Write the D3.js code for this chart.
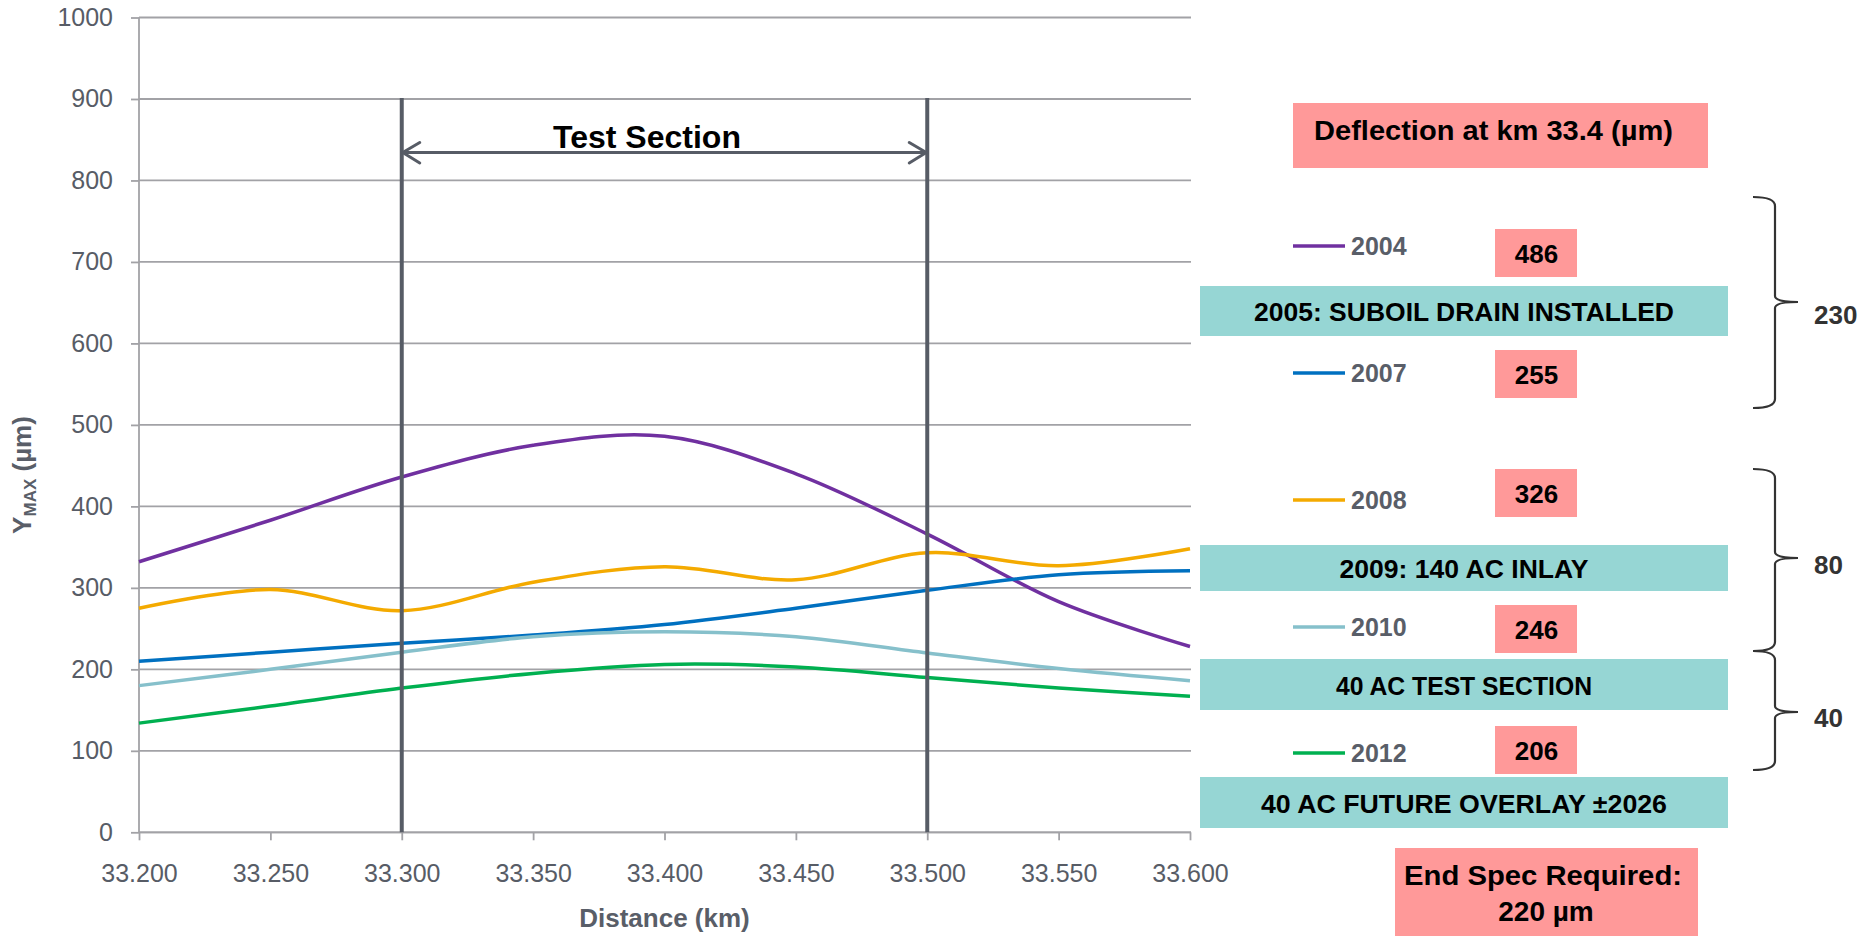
<!DOCTYPE html>
<html>
<head>
<meta charset="utf-8">
<script src="https://cdn.jsdelivr.net/npm/d3@7"></script>
<style>
  html, body { margin: 0; padding: 0; background: #ffffff; }
  svg { display: block; }
  text { font-family: "Liberation Sans", Arial, Helvetica, sans-serif; }
</style>
</head>
<body>
<svg id="chart" width="1872" height="936"></svg>
<script>
// Maximum deflection (µm) along the road, one series per survey year
const distanceKm = [33.20, 33.25, 33.30, 33.35, 33.40, 33.45, 33.50, 33.55, 33.60];
const ymax2004 = [332, 383, 436, 475, 486, 440, 366, 283, 228];
const ymax2007 = [210, 221, 232, 242, 255, 275, 297, 316, 321];
const ymax2008 = [275, 298, 272, 307, 326, 310, 343, 327, 348];
const ymax2010 = [180, 200, 221, 240, 246, 240, 220, 201, 186];
const ymax2012 = [134, 155, 177, 195, 206, 203, 190, 177, 167];

const surveyYears = ["2004", "2007", "2008", "2010", "2012"];
const seriesValues = [ymax2004, ymax2007, ymax2008, ymax2010, ymax2012];
const lineColors = ["#7030A0", "#0070C0", "#F4AA00", "#86C0CB", "#00B050"];

const xTicks = [33.20, 33.25, 33.30, 33.35, 33.40, 33.45, 33.50, 33.55, 33.60];
const yTicks = [0, 100, 200, 300, 400, 500, 600, 700, 800, 900, 1000];

const testSectionKm = [33.30, 33.50];
const testSectionLabel = "Test Section";
const reportKm = 33.40;

const panelTitle = "Deflection at km 33.4 (µm)";
const treatmentEvents = [
  "2005: SUBOIL DRAIN INSTALLED",
  "2009: 140 AC INLAY",
  "40 AC TEST SECTION",
  "40 AC FUTURE OVERLAY ±2026"
];
const improvementLabels = ["230", "80", "40"];
const endSpecLines = ["End Spec Required:", "220 µm"];

// ---------------------------------------------------------------
const svg = d3.select("#chart");
svg.append("rect").attr("width", 1872).attr("height", 936).attr("fill", "#ffffff");

const plot = { left: 139, right: 1190, top: 17.5, bottom: 832.3 };
const x = d3.scaleLinear().domain([33.2, 33.6]).range([plot.left, plot.right]);
const y = d3.scaleLinear().domain([0, 1000]).range([plot.bottom, plot.top]);

const gridColor = "#a2a2a6";
const tickTextColor = "#575c66";

// horizontal gridlines
svg.append("g")
  .selectAll("line")
  .data(yTicks)
  .join("line")
  .attr("x1", plot.left).attr("x2", plot.right + 1)
  .attr("y1", d => y(d)).attr("y2", d => y(d))
  .attr("stroke", gridColor).attr("stroke-width", 1.8);

// y axis
const yAxis = svg.append("g")
  .attr("transform", `translate(${plot.left},0)`)
  .call(d3.axisLeft(y).tickValues(yTicks).tickSize(8).tickPadding(18).tickFormat(d3.format("d")));
yAxis.select(".domain").attr("stroke", gridColor).attr("stroke-width", 1.8)
  .attr("d", `M0,${plot.top}V${plot.bottom}`);
yAxis.selectAll(".tick line").attr("stroke", gridColor).attr("stroke-width", 1.8);
yAxis.selectAll(".tick text")
  .attr("fill", tickTextColor).style("font-size", "25px")
  .style("font-family", '"Liberation Sans", Arial, sans-serif');

// x axis
const xAxis = svg.append("g")
  .attr("transform", `translate(0,${plot.bottom})`)
  .call(d3.axisBottom(x).tickValues(xTicks).tickSize(8).tickPadding(24).tickFormat(d3.format(".3f")));
xAxis.select(".domain").attr("stroke", gridColor).attr("stroke-width", 1.8)
  .attr("d", `M${plot.left},0H${plot.right + 1}`);
xAxis.selectAll(".tick line").attr("stroke", gridColor).attr("stroke-width", 1.8);
xAxis.selectAll(".tick text")
  .attr("fill", tickTextColor).style("font-size", "25px")
  .style("font-family", '"Liberation Sans", Arial, sans-serif');

// axis titles
svg.append("text")
  .attr("x", (plot.left + plot.right) / 2).attr("y", 927)
  .attr("text-anchor", "middle")
  .attr("fill", "#595e68").attr("font-weight", "bold").attr("font-size", 26)
  .text("Distance (km)");

const yTitle = svg.append("text")
  .attr("transform", "translate(31,475) rotate(-90)")
  .attr("text-anchor", "middle")
  .attr("fill", "#595e68").attr("font-weight", "bold").attr("font-size", 26);
yTitle.append("tspan").text("Y");
yTitle.append("tspan").attr("font-size", 17).attr("dy", 5).text("MAX");
yTitle.append("tspan").attr("dy", -5).text(" (µm)");

// deflection curves
const line = d3.line()
  .x((d, i) => x(distanceKm[i]))
  .y(d => y(d))
  .curve(d3.curveCardinal.tension(0));

svg.append("g")
  .selectAll("path")
  .data(seriesValues)
  .join("path")
  .attr("d", d => line(d))
  .attr("fill", "none")
  .attr("stroke", (d, i) => lineColors[i])
  .attr("stroke-width", 3.5)
  .attr("stroke-linejoin", "round");

// test section markers
const markerColor = "#575c66";
svg.append("g")
  .selectAll("line")
  .data(testSectionKm)
  .join("line")
  .attr("x1", d => x(d)).attr("x2", d => x(d))
  .attr("y1", y(900) - 1).attr("y2", plot.bottom)
  .attr("stroke", markerColor).attr("stroke-width", 4);

const arrowY = 152.5;
const xa = x(testSectionKm[0]) + 1, xb = x(testSectionKm[1]) - 1;
const arrow = svg.append("g")
  .attr("fill", "none").attr("stroke", markerColor)
  .attr("stroke-width", 3).attr("stroke-linecap", "round").attr("stroke-linejoin", "round");
arrow.append("line").attr("x1", xa).attr("x2", xb).attr("y1", arrowY).attr("y2", arrowY);
arrow.append("path").attr("d", `M${xa + 17},${arrowY - 10}L${xa},${arrowY}L${xa + 17},${arrowY + 10.5}`);
arrow.append("path").attr("d", `M${xb - 17},${arrowY - 10}L${xb},${arrowY}L${xb - 17},${arrowY + 10.5}`);

svg.append("text")
  .attr("x", 647).attr("y", 148)
  .attr("text-anchor", "middle")
  .attr("fill", "#000000").attr("font-weight", "bold").attr("font-size", 32)
  .text(testSectionLabel);

// ---------------------------------------------------------------
// side panel: deflections at km 33.4 and treatment history
const pink = "#FF9999";
const teal = "#96D6D4";
const panel = svg.append("g");

function boxedText(g, bx, by, bw, bh, fill, label, tx, ty, size, width) {
  g.append("rect").attr("x", bx).attr("y", by).attr("width", bw).attr("height", bh).attr("fill", fill);
  const t = g.append("text")
    .attr("x", tx).attr("y", ty)
    .attr("text-anchor", "middle")
    .attr("fill", "#000000").attr("font-weight", "bold").attr("font-size", size)
    .text(label);
  if (width) t.attr("textLength", width).attr("lengthAdjust", "spacingAndGlyphs");
  return t;
}

boxedText(panel, 1293, 103, 415, 65, pink, panelTitle, 1493.5, 140, 28, 359);

const legendLineY = [246, 373, 500, 627, 753];
const valueBoxMid = [253, 374, 493, 629, 750];
const reportIndex = distanceKm.indexOf(reportKm);

surveyYears.forEach((yr, i) => {
  panel.append("line")
    .attr("x1", 1293).attr("x2", 1345)
    .attr("y1", legendLineY[i]).attr("y2", legendLineY[i])
    .attr("stroke", lineColors[i]).attr("stroke-width", 3.5);
  panel.append("text")
    .attr("x", 1351).attr("y", legendLineY[i] + 9)
    .attr("fill", "#595e68").attr("font-weight", "bold").attr("font-size", 25)
    .text(yr);
  boxedText(panel, 1495, valueBoxMid[i] - 24, 82, 48, pink,
    String(seriesValues[i][reportIndex]), 1536.5, valueBoxMid[i] + 10, 26);
});

const eventBoxTop = [286, 545, 659, 777];
const eventBoxH = [50, 46, 51, 51];
const eventTextW = [420, 249, 256, 406];
treatmentEvents.forEach((label, i) => {
  boxedText(panel, 1200, eventBoxTop[i], 528, eventBoxH[i], teal, label,
    1464, eventBoxTop[i] + eventBoxH[i] / 2 + 10, 26, eventTextW[i]);
});

// end specification box
panel.append("rect").attr("x", 1395).attr("y", 848).attr("width", 303).attr("height", 92).attr("fill", pink);
panel.append("text").attr("x", 1543).attr("y", 885).attr("text-anchor", "middle")
  .attr("fill", "#000").attr("font-weight", "bold").attr("font-size", 28)
  .attr("textLength", 278).attr("lengthAdjust", "spacingAndGlyphs")
  .text(endSpecLines[0]);
panel.append("text").attr("x", 1546).attr("y", 921).attr("text-anchor", "middle")
  .attr("fill", "#000").attr("font-weight", "bold").attr("font-size", 28)
  .text(endSpecLines[1]);

// curly braces grouping before/after each treatment
const braces = [
  { top: 197, tip: 302, bottom: 408, labelY: 314 },
  { top: 469, tip: 558, bottom: 651, labelY: 564 },
  { top: 651, tip: 712, bottom: 770, labelY: 717 }
];
const bx0 = 1753, bStem = 1775, bTip = 1798, r = 9, rt = 6;
braces.forEach((b, i) => {
  const d = `M${bx0},${b.top}` +
    `Q${bStem},${b.top} ${bStem},${b.top + r}` +
    `L${bStem},${b.tip - rt}` +
    `Q${bStem},${b.tip} ${bTip},${b.tip}` +
    `Q${bStem},${b.tip} ${bStem},${b.tip + rt}` +
    `L${bStem},${b.bottom - r}` +
    `Q${bStem},${b.bottom} ${bx0},${b.bottom}`;
  panel.append("path").attr("d", d)
    .attr("fill", "none").attr("stroke", "#333333").attr("stroke-width", 2.2);
  panel.append("text")
    .attr("x", 1814).attr("y", b.labelY + 9.5)
    .attr("fill", "#333333").attr("font-weight", "bold").attr("font-size", 26)
    .text(improvementLabels[i]);
});
</script>
</body>
</html>
